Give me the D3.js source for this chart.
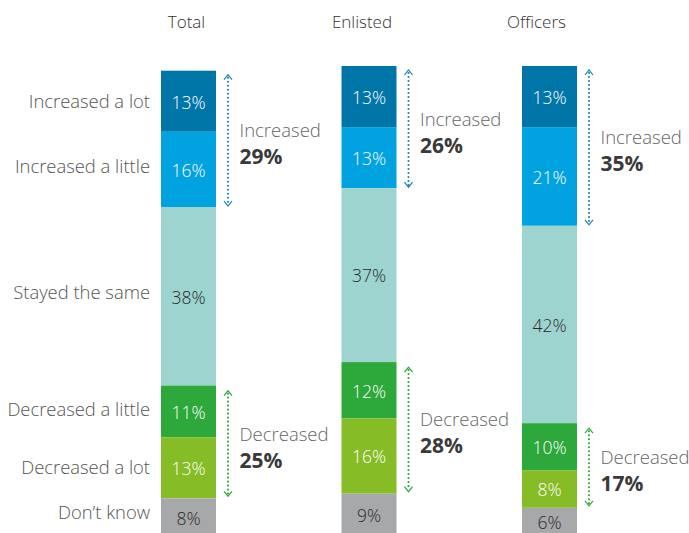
<!DOCTYPE html>
<html>
<head>
<meta charset="utf-8">
<script src="https://cdn.jsdelivr.net/npm/d3@7"></script>
<style>
  html, body { margin: 0; padding: 0; background: #fff; }
  svg { display: block; font-family: "Open Sans", "Noto Sans", sans-serif; }
</style>
</head>
<body>
<svg id="chart" width="689" height="533"></svg>
<script>
// Survey responses by group (percent)
const groups = ["Total", "Enlisted", "Officers"];
const categories = ["Increased a lot", "Increased a little", "Stayed the same",
                    "Decreased a little", "Decreased a lot", "Don’t know"];
const totalValues    = [13, 16, 38, 11, 13, 8];
const enlistedValues = [13, 13, 37, 12, 16, 9];
const officersValues = [13, 21, 42, 10, 8, 6];
const increasedNet = [29, 26, 35];
const decreasedNet = [25, 28, 17];

const seriesValues = [totalValues, enlistedValues, officersValues];
const colors = ["#0076a8", "#00a3e0", "#9dd4cf", "#2da83a", "#86bc25", "#a7a8aa"];
const labelColors = ["#fff", "#fff", "#2b2b2b", "#fff", "#fff", "#2b2b2b"];
// small vertical nudges for the row labels on the left
const rowLabelNudge = [0, -3, -4, -2, 0, -5];
// horizontal offsets of the column headings relative to bar centres
const titleShift = [-2, -7, -13];

const svg = d3.select("#chart");
const barWidth = 55;

const x = d3.scalePoint().domain(groups).range([188.5, 549.5]);
const y = d3.scaleLinear().domain([0, 100]).range([536, 66]);

// build stacked rows from the bottom (Don’t know) upward
const stacked = groups.map((g, gi) => {
  const vals = seriesValues[gi];
  let acc = 0;
  const segs = [];
  for (let i = vals.length - 1; i >= 0; i--) {
    segs[i] = { group: g, gi, ci: i, value: vals[i], y0: acc, y1: acc + vals[i] };
    acc += vals[i];
  }
  return segs;
});

// column headings
svg.selectAll("text.title").data(groups).join("text")
  .attr("class", "title")
  .attr("x", (d, i) => x(d) + titleShift[i])
  .attr("y", 28)
  .attr("text-anchor", "middle")
  .attr("font-size", 17)
  .attr("font-weight", 300)
  .attr("fill", "#333")
  .text(d => d);

// bars
const barG = svg.selectAll("g.bar").data(stacked).join("g").attr("class", "bar");
barG.selectAll("rect").data(d => d).join("rect")
  .attr("x", d => x(d.group) - barWidth / 2)
  .attr("width", barWidth)
  .attr("y", d => y(d.y1))
  .attr("height", d => y(d.y0) - y(d.y1))
  .attr("fill", d => colors[d.ci]);

barG.selectAll("text").data(d => d).join("text")
  .attr("x", d => x(d.group))
  .attr("y", d => (y(d.y0) + y(d.y1)) / 2 + 1)
  .attr("dy", "0.36em")
  .attr("text-anchor", "middle")
  .attr("font-size", 17.5)
  .attr("font-weight", 300)
  .attr("fill", d => labelColors[d.ci])
  .text(d => d.value + "%");

// row labels aligned to the Total column
svg.selectAll("text.row").data(stacked[0]).join("text")
  .attr("class", "row")
  .attr("x", 150)
  .attr("y", d => (y(d.y0) + y(d.y1)) / 2 + rowLabelNudge[d.ci])
  .attr("dy", "0.36em")
  .attr("text-anchor", "end")
  .attr("font-size", 18.4)
  .attr("font-weight", 300)
  .attr("fill", "#555")
  .text(d => categories[d.ci]);

// dotted brackets with open arrowheads
function bracket(gx, yTop, yBot, color) {
  const g = svg.append("g");
  const xa = gx + barWidth / 2 + 12;
  const dots = d3.range(yTop + 3, yBot - 2, 4);
  g.selectAll("circle").data(dots).join("circle")
    .attr("cx", xa).attr("cy", d => d).attr("r", 1.05).attr("fill", color);
  g.append("path")
    .attr("d", `M${xa - 4},${yTop + 5}L${xa},${yTop}L${xa + 4},${yTop + 5}` +
               `M${xa - 4},${yBot - 5}L${xa},${yBot}L${xa + 4},${yBot - 5}`)
    .attr("fill", "none").attr("stroke", color).attr("stroke-width", 1.2);
  return xa;
}

function note(xa, yTop, yBot, word, value) {
  const mid = (yTop + yBot) / 2;
  svg.append("text")
    .attr("x", xa + 11.5).attr("y", mid - 3)
    .attr("font-size", 18.5).attr("font-weight", 300).attr("fill", "#666")
    .text(word);
  svg.append("text")
    .attr("x", xa + 11.5).attr("y", mid + 24)
    .attr("font-size", 21).attr("font-weight", "bold").attr("fill", "#3a3a3a")
    .text(value + "%");
}

stacked.forEach((segs, gi) => {
  const gx = x(groups[gi]);
  // increased: first two categories
  const incTop = y(segs[0].y1) + 4, incBot = y(segs[1].y0) - 1;
  const xi = bracket(gx, incTop, incBot, "#1a7fc0");
  note(xi, incTop, incBot, "Increased", increasedNet[gi]);
  // decreased: categories 4 and 5
  const decTop = y(segs[3].y1) + 5, decBot = y(segs[4].y0) - 2;
  const xd = bracket(gx, decTop, decBot, "#2da83a");
  note(xd, decTop, decBot, "Decreased", decreasedNet[gi]);
});
</script>
</body>
</html>
